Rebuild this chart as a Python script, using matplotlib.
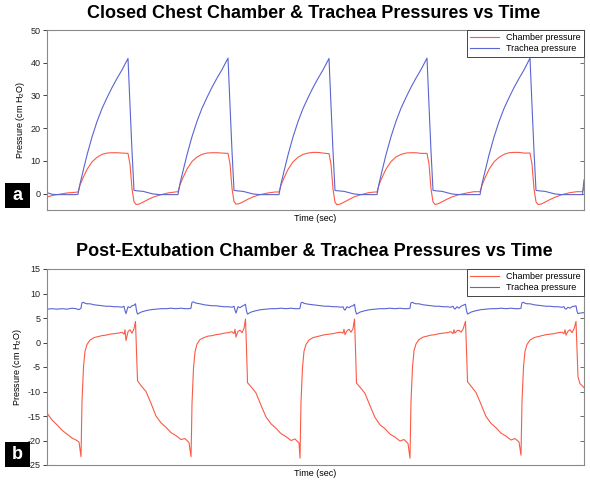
import matplotlib
matplotlib.use("Agg")
import matplotlib.pyplot as plt
from matplotlib.patches import Rectangle

plt.rcParams['font.family'] = ['Liberation Sans', 'DejaVu Sans']
plt.rcParams['mathtext.default'] = 'regular'
plt.rcParams['axes.unicode_minus'] = False

# panel a: closed chest
a_time = [0.00, 0.05, 0.10, 0.20, 0.28,
          0.31, 0.33, 0.36, 0.40, 0.45, 0.50, 0.55, 0.60, 0.65, 0.70, 0.75, 0.81, 0.83, 0.85, 0.87, 0.89, 0.92, 0.96, 1.01, 1.06, 1.13, 1.21, 1.28,
          1.31, 1.33, 1.36, 1.40, 1.45, 1.50, 1.55, 1.60, 1.65, 1.70, 1.75, 1.81, 1.83, 1.85, 1.87, 1.89, 1.92, 1.96, 2.01, 2.06, 2.13, 2.21, 2.28,
          2.32, 2.34, 2.37, 2.41, 2.46, 2.51, 2.56, 2.61, 2.66, 2.71, 2.76, 2.82, 2.84, 2.86, 2.88, 2.90, 2.93, 2.97, 3.02, 3.07, 3.14, 3.22, 3.28,
          3.30, 3.32, 3.35, 3.39, 3.44, 3.49, 3.54, 3.59, 3.64, 3.69, 3.74, 3.80, 3.82, 3.84, 3.86, 3.88, 3.91, 3.95, 4.00, 4.05, 4.12, 4.20, 4.27,
          4.33, 4.35, 4.38, 4.42, 4.47, 4.52, 4.57, 4.62, 4.67, 4.72, 4.77, 4.83, 4.85, 4.87, 4.89, 4.91, 4.94, 4.98, 5.03, 5.08, 5.15, 5.23, 5.30,
          5.355, 5.37]
a_chamber = [-1.0, -0.6, -0.3, 0.2, 0.4,
             0.5, 2.6, 4.8, 7.4, 9.7, 11.1, 12.0, 12.4, 12.5, 12.5, 12.4, 12.3, 9.0, 1.5, -2.5, -3.3, -3.2, -2.6, -1.8, -1.1, -0.4, 0.2, 0.5,
             0.6, 2.7, 4.9, 7.5, 9.8, 11.2, 12.0, 12.4, 12.5, 12.5, 12.4, 12.3, 9.2, 1.6, -2.4, -3.2, -3.1, -2.5, -1.7, -1.0, -0.3, 0.2, 0.5,
             0.5, 2.6, 4.8, 7.4, 9.7, 11.1, 12.0, 12.4, 12.6, 12.6, 12.4, 12.2, 9.0, 1.4, -2.6, -3.4, -3.2, -2.6, -1.8, -1.0, -0.3, 0.3, 0.5,
             0.5, 2.7, 4.9, 7.5, 9.8, 11.2, 12.0, 12.4, 12.5, 12.5, 12.3, 12.3, 9.1, 1.5, -2.5, -3.3, -3.1, -2.5, -1.7, -1.0, -0.3, 0.2, 0.6,
             0.6, 2.6, 4.8, 7.4, 9.7, 11.1, 12.0, 12.5, 12.6, 12.6, 12.4, 12.4, 9.0, 1.5, -2.5, -3.3, -3.2, -2.6, -1.8, -1.1, -0.3, 0.3, 0.6,
             0.6, 2.0]
a_trachea = [0.3, -0.2, -0.3, -0.3, -0.3,
             -0.2, 3.0, 6.8, 11.8, 17.3, 22.0, 26.0, 29.3, 32.4, 35.2, 37.8, 41.3, 27.0, 13.0, 1.0, 0.9, 0.8, 0.7, 0.3, -0.1, -0.3, -0.3, -0.3,
             -0.3, 3.1, 6.9, 11.9, 17.4, 22.1, 26.1, 29.4, 32.5, 35.3, 37.9, 41.4, 27.0, 13.0, 1.0, 0.9, 0.8, 0.7, 0.3, -0.1, -0.3, -0.3, -0.3,
             -0.3, 3.0, 6.8, 11.8, 17.3, 22.0, 26.0, 29.3, 32.4, 35.2, 37.8, 41.3, 27.0, 13.0, 1.0, 0.9, 0.8, 0.7, 0.3, -0.1, -0.3, -0.3, -0.3,
             -0.3, 3.0, 6.9, 11.9, 17.4, 22.1, 26.1, 29.4, 32.5, 35.3, 37.9, 41.4, 27.0, 13.0, 1.0, 0.9, 0.8, 0.7, 0.3, -0.1, -0.3, -0.3, -0.3,
             -0.3, 3.0, 6.8, 11.8, 17.3, 22.0, 26.0, 29.3, 32.4, 35.2, 37.8, 41.4, 27.0, 13.0, 1.0, 0.9, 0.8, 0.7, 0.3, -0.1, -0.3, -0.3, -0.3,
             -0.3, 4.2]

# panel b: post-extubation
b_time = [0.00, 0.05, 0.10, 0.15, 0.20, 0.25, 0.29, 0.32,
          0.34, 0.345, 0.35, 0.365, 0.38, 0.40, 0.43, 0.47, 0.51, 0.55, 0.59, 0.63, 0.67, 0.71, 0.75, 0.77, 0.78, 0.79, 0.81, 0.83, 0.85, 0.87, 0.885, 0.895, 0.905, 0.94, 0.99, 1.04, 1.09, 1.14, 1.19, 1.24, 1.29, 1.34, 1.38, 1.42,
          1.44, 1.445, 1.45, 1.465, 1.48, 1.50, 1.53, 1.57, 1.61, 1.65, 1.69, 1.73, 1.77, 1.81, 1.85, 1.87, 1.88, 1.89, 1.91, 1.93, 1.95, 1.97, 1.985, 1.995, 2.005, 2.04, 2.09, 2.14, 2.19, 2.24, 2.29, 2.34, 2.39, 2.44, 2.48, 2.52,
          2.53, 2.535, 2.54, 2.555, 2.57, 2.59, 2.62, 2.66, 2.70, 2.74, 2.78, 2.82, 2.86, 2.90, 2.94, 2.96, 2.97, 2.98, 3.00, 3.02, 3.04, 3.06, 3.075, 3.085, 3.095, 3.13, 3.18, 3.23, 3.28, 3.33, 3.38, 3.43, 3.48, 3.53, 3.57, 3.61,
          3.63, 3.635, 3.64, 3.655, 3.67, 3.69, 3.72, 3.76, 3.80, 3.84, 3.88, 3.92, 3.96, 4.00, 4.04, 4.06, 4.07, 4.08, 4.10, 4.12, 4.14, 4.16, 4.185, 4.195, 4.205, 4.24, 4.29, 4.34, 4.39, 4.44, 4.49, 4.54, 4.59, 4.64, 4.68, 4.72,
          4.74, 4.745, 4.75, 4.765, 4.78, 4.80, 4.83, 4.87, 4.91, 4.95, 4.99, 5.03, 5.07, 5.11, 5.15, 5.17, 5.18, 5.19, 5.21, 5.23, 5.25, 5.27, 5.29, 5.30, 5.31, 5.33, 5.37]
b_chamber = [-14.4, -15.8, -16.8, -17.9, -18.7, -19.5, -19.9, -20.3,
             -23.3, -18.0, -12.0, -5.0, -1.8, -0.4, 0.5, 1.0, 1.2, 1.4, 1.5, 1.7, 1.8, 1.9, 2.1, 1.7, 2.6, 0.4, 2.2, 2.6, 1.9, 2.8, 4.3, -1.5, -7.8, -8.8, -10.0, -12.4, -15.0, -16.4, -17.3, -18.4, -19.0, -19.8, -19.6, -20.4,
             -23.3, -18.5, -12.5, -5.2, -1.9, -0.3, 0.6, 1.0, 1.3, 1.4, 1.6, 1.7, 1.9, 2.0, 2.2, 1.8, 2.7, 1.1, 2.3, 2.5, 2.0, 2.9, 4.8, -1.2, -8.2, -9.0, -10.3, -12.8, -15.2, -16.6, -17.5, -18.6, -19.2, -20.0, -19.7, -20.5,
             -23.6, -18.3, -12.2, -5.1, -1.8, -0.4, 0.5, 1.0, 1.2, 1.4, 1.6, 1.7, 1.8, 2.0, 2.1, 1.9, 2.7, 1.6, 2.4, 2.7, 2.1, 2.8, 4.8, -1.4, -8.3, -9.1, -10.4, -12.9, -15.3, -16.8, -17.6, -18.7, -19.3, -20.1, -19.8, -20.6,
             -23.6, -18.0, -12.0, -5.0, -1.7, -0.3, 0.6, 1.1, 1.3, 1.5, 1.6, 1.8, 1.9, 2.0, 2.2, 1.8, 2.6, 1.9, 2.4, 2.5, 2.1, 2.7, 4.3, -1.5, -8.0, -8.9, -10.2, -12.6, -15.1, -16.5, -17.4, -18.5, -19.1, -19.9, -19.6, -20.3,
             -23.0, -18.0, -12.0, -5.0, -1.8, -0.4, 0.5, 1.0, 1.2, 1.4, 1.6, 1.7, 1.8, 2.0, 2.1, 1.8, 2.6, 1.5, 2.3, 2.6, 2.0, 2.8, 4.3, -1.5, -7.0, -8.4, -9.2]
b_trachea = [6.8, 6.9, 6.8, 6.9, 6.8, 7.0, 6.9, 6.7,
             7.0, 7.7, 8.1, 8.2, 8.0, 7.9, 7.9, 7.7, 7.6, 7.5, 7.4, 7.4, 7.3, 7.3, 7.2, 7.4, 6.5, 5.9, 7.3, 7.1, 7.5, 7.6, 7.9, 6.5, 5.8, 6.2, 6.5, 6.7, 6.8, 6.9, 6.9, 7.0, 6.9, 7.0, 6.9, 6.9,
             7.0, 7.7, 8.2, 8.3, 8.1, 8.0, 7.9, 7.7, 7.6, 7.5, 7.5, 7.4, 7.3, 7.3, 7.2, 7.4, 6.6, 6.0, 7.3, 7.1, 7.4, 7.6, 7.8, 6.4, 5.8, 6.2, 6.5, 6.7, 6.8, 6.9, 6.9, 7.0, 6.9, 7.0, 6.9, 6.9,
             7.0, 7.6, 8.1, 8.2, 8.0, 7.9, 7.8, 7.7, 7.6, 7.5, 7.4, 7.4, 7.3, 7.3, 7.2, 7.3, 6.8, 6.6, 7.3, 7.1, 7.4, 7.5, 7.8, 6.5, 5.8, 6.2, 6.5, 6.7, 6.8, 6.9, 6.9, 7.0, 6.9, 7.0, 6.9, 6.9,
             7.0, 7.7, 8.1, 8.2, 8.0, 7.9, 7.9, 7.7, 7.6, 7.5, 7.4, 7.4, 7.3, 7.3, 7.2, 7.4, 7.0, 6.8, 7.3, 7.0, 7.4, 7.6, 7.8, 6.5, 5.8, 6.2, 6.5, 6.7, 6.8, 6.9, 6.9, 7.0, 6.9, 7.0, 6.9, 6.9,
             7.0, 7.7, 8.1, 8.2, 8.0, 7.9, 7.9, 7.7, 7.6, 7.5, 7.4, 7.4, 7.3, 7.3, 7.2, 7.3, 6.9, 6.8, 7.2, 7.0, 7.3, 7.4, 7.5, 6.4, 5.9, 6.0, 6.1]

red = '#fa5a46'
blue = '#5a64d2'
titles = ['Closed Chest Chamber & Trachea Pressures vs Time',
          'Post-Extubation Chamber & Trachea Pressures vs Time']

fig = plt.figure(figsize=(5.9, 4.8), dpi=100)
ax_a = fig.add_axes([47/590, 1-210/480, 537/590, 180/480])
ax_b = fig.add_axes([47/590, 1-465/480, 537/590, 196/480])


def style(ax, ylim, yticks, letter, box_top, title, title_y):
    ax.set_xlim(0, 5.37)
    ax.set_ylim(*ylim)
    ax.set_xticks([])
    ax.set_yticks(yticks)
    ax.tick_params(axis='y', direction='out', length=3, width=0.6,
                   labelsize=6.5, pad=1.5, colors='#222222')
    for sp in ax.spines.values():
        sp.set_color('#8a8a8a')
        sp.set_linewidth(0.8)
    right = ax.secondary_yaxis('right')
    right.set_yticks(yticks)
    right.tick_params(direction='in', length=3, width=0.6, labelright=False, colors='#555555')
    right.spines['right'].set_visible(False)
    ax.set_ylabel('Pressure (cm H$_2$O)', fontsize=6.5, labelpad=3)
    ax.set_xlabel('Time (sec)', fontsize=6.5, labelpad=3)
    leg = ax.legend(loc='upper right', borderaxespad=0, fancybox=False,
                    edgecolor='#444444', framealpha=1, fontsize=6.5,
                    handlelength=3.2, labelspacing=0.25, borderpad=0.35)
    leg.get_frame().set_linewidth(0.7)
    fig.patches.append(Rectangle((5/590, 1-box_top/480-25/480), 25/590, 25/480,
                                 transform=fig.transFigure, facecolor='black',
                                 edgecolor='none'))
    fig.text(17.5/590, 1-(box_top+12.5)/480, letter, color='white', fontsize=13,
             fontweight='bold', ha='center', va='center')
    fig.text(314/590, 1-title_y/480, title, fontsize=13, fontweight='bold',
             ha='center', va='center')


ax_a.plot(a_time, a_chamber, color=red, lw=0.8, label='Chamber pressure')
ax_a.plot(a_time, a_trachea, color=blue, lw=0.8, label='Trachea pressure')
style(ax_a, (-5, 50), [0, 10, 20, 30, 40, 50], 'a', 183, titles[0], 14)

ax_b.plot(b_time, b_chamber, color=red, lw=0.8, label='Chamber pressure')
ax_b.plot(b_time, b_trachea, color=blue, lw=0.8, label='Trachea pressure')
style(ax_b, (-25, 15), list(range(-25, 20, 5)), 'b', 442, titles[1], 252)

fig.savefig('out.png', dpi=100)
